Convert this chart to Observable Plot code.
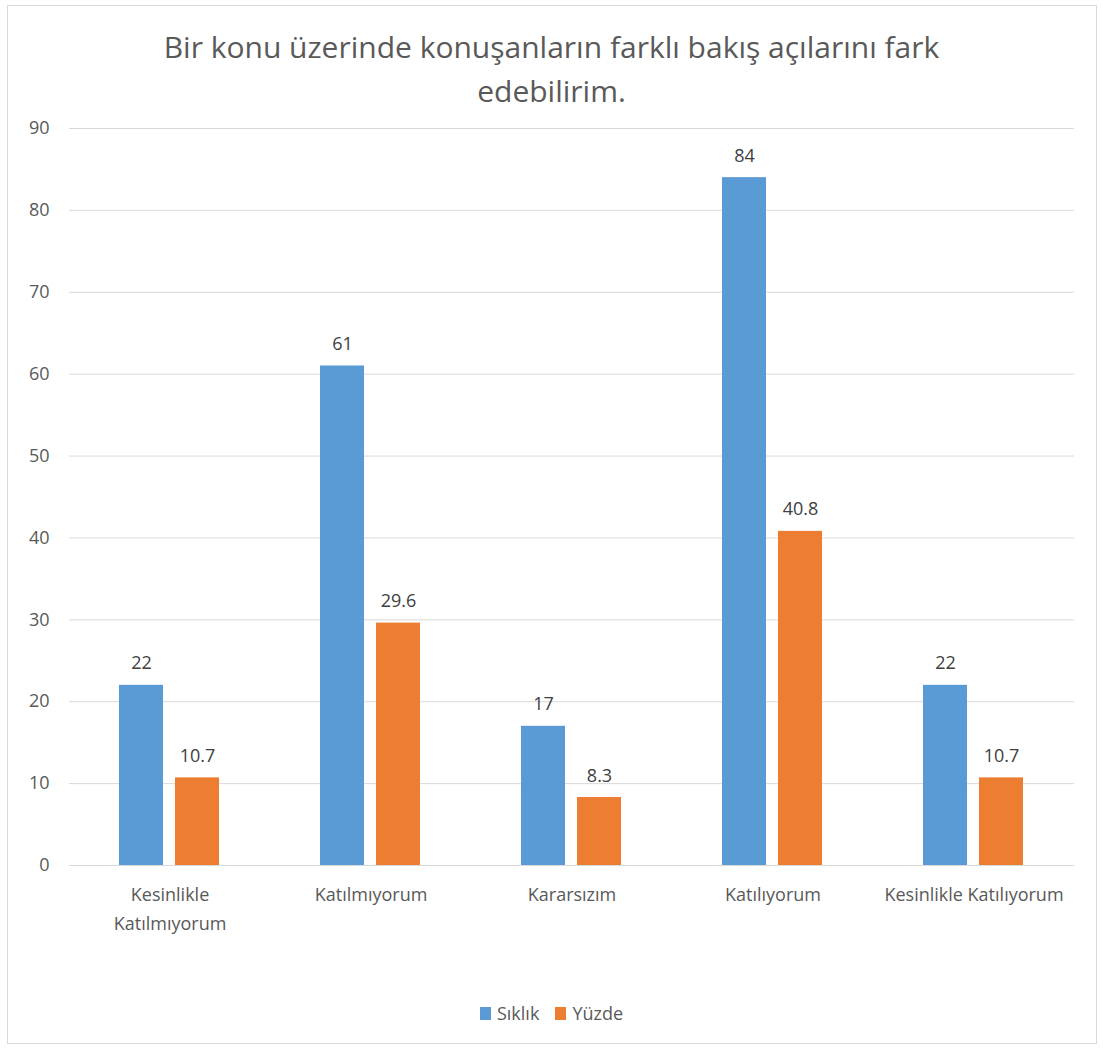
<!DOCTYPE html>
<html>
<head>
<meta charset="utf-8">
<script src="https://cdn.jsdelivr.net/npm/d3@7"></script>
<script src="https://cdn.jsdelivr.net/npm/@observablehq/plot@0.6"></script>
<style>
  html, body { margin: 0; padding: 0; background: #fff; }
  body { width: 1103px; height: 1050px; position: relative; overflow: hidden; font-family: "Open Sans", sans-serif; }
  #frame { position: absolute; left: 7px; top: 5px; width: 1090px; height: 1039px; border: 1px solid #d9d9d9; box-sizing: border-box; }
  #title { position: absolute; left: 0; top: 25px; width: 1103px; text-align: center; font-size: 30px; line-height: 44px; color: #595959; font-weight: 400; }
  #chart { position: absolute; left: 0; top: 100px; }
  #legend { position: absolute; left: 0; top: 1001px; width: 1103px; display: flex; justify-content: center; align-items: center; gap: 16px; font-size: 18px; color: #595959; }
  .item { display: flex; align-items: center; gap: 6px; }
  .sw { width: 11px; height: 13px; display: inline-block; }
</style>
</head>
<body>
<div id="frame"></div>
<div id="title">Bir konu üzerinde konuşanların farklı bakış açılarını fark<br>edebilirim.</div>
<div id="chart"></div>
<div id="legend"></div>
<script>
const categories = ["Kesinlikle Katılmıyorum", "Katılmıyorum", "Kararsızım", "Katılıyorum", "Kesinlikle Katılıyorum"];
const series = ["Sıklık", "Yüzde"];
const siklik = [22, 61, 17, 84, 22];
const yuzde = [10.7, 29.6, 8.3, 40.8, 10.7];
const colors = ["#5b9bd5", "#ed7d31"];
const yTicks = [0, 10, 20, 30, 40, 50, 60, 70, 80, 90];

const rows = [];
categories.forEach((c, i) => {
  rows.push({category: c, series: series[0], value: siklik[i]});
  rows.push({category: c, series: series[1], value: yuzde[i]});
});

const wrapLabel = d => d === "Kesinlikle Katılmıyorum" ? "Kesinlikle\nKatılmıyorum" : d;

const chart = Plot.plot({
  width: 1103,
  height: 850,
  marginTop: 28,
  marginBottom: 85,
  marginLeft: 68,
  marginRight: 28,
  style: {fontFamily: "Open Sans, sans-serif", fontSize: "18px", color: "#595959", background: "transparent"},
  fx: {domain: categories, padding: 0, label: null, axis: null},
  x: {domain: series, paddingInner: 0.21, paddingOuter: 0.877, axis: null},
  y: {domain: [0, 90], label: null},
  color: {domain: series, range: colors},
  marks: [
    Plot.gridY(yTicks, {stroke: "#d9d9d9", strokeOpacity: 1}),
    Plot.axisY(yTicks, {tickSize: 0, tickPadding: 20, label: null, fill: "#595959", fontSize: 18}),
    Plot.axisFx({anchor: "bottom", tickSize: 0, tickPadding: 15, label: null, tickFormat: wrapLabel, lineHeight: 1.6, fill: "#595959", fontSize: 18}),
    Plot.barY(rows, {fx: "category", x: "series", y: "value", fill: "series"}),
    Plot.text(rows, {fx: "category", x: "series", y: "value", text: d => String(d.value), lineAnchor: "bottom", dy: -16, fill: "#404040", fontSize: 18}),
    Plot.ruleY([0], {stroke: "#d9d9d9"})
  ]
});
document.getElementById("chart").appendChild(chart);

const legend = document.getElementById("legend");
series.forEach((s, i) => {
  const item = document.createElement("div");
  item.className = "item";
  const sw = document.createElement("span");
  sw.className = "sw";
  sw.style.background = colors[i];
  const t = document.createElement("span");
  t.textContent = s;
  item.appendChild(sw);
  item.appendChild(t);
  legend.appendChild(item);
});
</script>
</body>
</html>
